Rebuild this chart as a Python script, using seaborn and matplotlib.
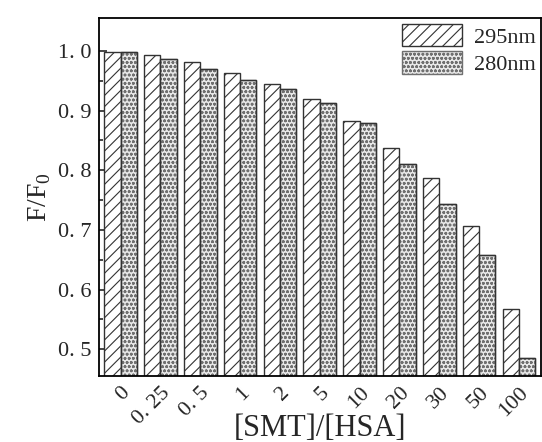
import numpy as np
import pandas as pd
import matplotlib
matplotlib.use("Agg")
import matplotlib.pyplot as plt
import seaborn as sns
from matplotlib.ticker import FixedLocator
from matplotlib.patches import Patch

# ratio categories and quenching values
ratios = ["0", "0. 25", "0. 5", "1", "2", "5", "10", "20", "30", "50", "100"]
f295 = [0.999, 0.994, 0.981, 0.963, 0.945, 0.920, 0.883, 0.838, 0.787, 0.706, 0.567]
f280 = [0.999, 0.987, 0.970, 0.951, 0.937, 0.913, 0.879, 0.811, 0.743, 0.658, 0.486]
series = ["295nm", "280nm"]
yticks = [0.5, 0.6, 0.7, 0.8, 0.9, 1.0]
ytick_labels = ["0. 5", "0. 6", "0. 7", "0. 8", "0. 9", "1. 0"]
yminor = [0.55, 0.65, 0.75, 0.85, 0.95]

df = pd.DataFrame({
    "ratio": ratios * 2,
    "value": f295 + f280,
    "wl": [series[0]] * len(ratios) + [series[1]] * len(ratios),
})

sns.set_style("ticks")
plt.rcParams["font.family"] = ["Liberation Serif", "DejaVu Serif"]
plt.rcParams["hatch.linewidth"] = 0.8
plt.rcParams["mathtext.fontset"] = "custom"
plt.rcParams["mathtext.rm"] = "Liberation Serif"

fig = plt.figure(figsize=(5.42, 4.42), dpi=100)
ax = fig.add_axes([0.182, 0.149, 0.816, 0.810])

face = ["white", "#e8e8e8"]
edge = ["#333333", "#707070"]
hatches = ["///", "oooo"]

sns.barplot(data=df, x="ratio", y="value", hue="wl", order=ratios,
            hue_order=series, width=0.82, gap=0, ax=ax, legend=False,
            palette=face, linewidth=1.0, saturation=1)

for cont, h, ec in zip(ax.containers, hatches, edge):
    for bar in cont:
        bar.set_hatch(h)
        bar.set_edgecolor(ec)
# dark outline on top of the lighter hatch for the 280nm bars
for bar in ax.containers[1]:
    ax.add_patch(plt.Rectangle(bar.get_xy(), bar.get_width(), bar.get_height(),
                               fill=False, edgecolor="#333333", linewidth=1.0))

ax.set_ylim(0.455, 1.055)
ax.set_xlim(-0.55, 10.55)
ax.set_yticks(yticks)
ax.yaxis.set_minor_locator(FixedLocator(yminor))
ax.set_yticklabels(ytick_labels, fontsize=16)
ax.tick_params(axis="y", which="major", direction="in", length=6, width=1.2, pad=5)
ax.tick_params(axis="y", which="minor", direction="in", length=3, width=1.2)
ax.tick_params(axis="x", length=0, pad=5)
for lbl in ax.get_xticklabels():
    lbl.set_rotation(45)
    lbl.set_fontsize(16)
    lbl.set_ha("right")
    lbl.set_va("top")
    lbl.set_rotation_mode("anchor")

for s in ax.spines.values():
    s.set_linewidth(1.3)
    s.set_color("black")

ax.set_xlabel("[SMT]/[HSA]", fontsize=22, labelpad=-10)
ax.set_ylabel("F/F$_0$", fontsize=20, labelpad=4)

handles = [Patch(facecolor=face[0], edgecolor=edge[0], hatch=hatches[0]),
           Patch(facecolor=face[1], edgecolor=edge[1], hatch=hatches[1])]
ax.legend(handles, series, loc="upper right", frameon=False, fontsize=16,
          handlelength=2.7, handleheight=1.2, borderaxespad=0.15,
          handletextpad=0.5, labelspacing=0.15, borderpad=0.1)

fig.savefig("out.png", dpi=100, facecolor="white")
